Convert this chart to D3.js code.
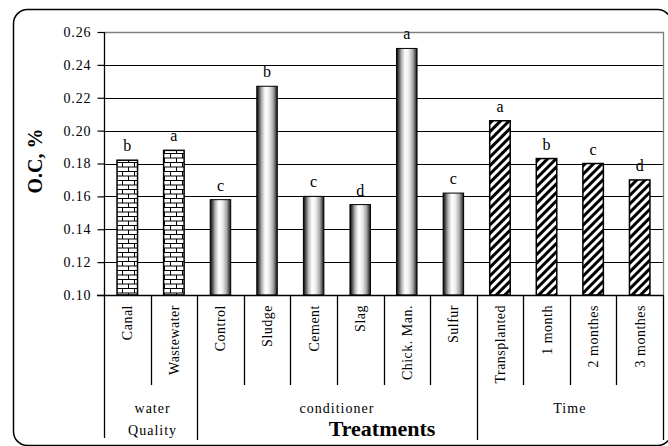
<!DOCTYPE html>
<html>
<head>
<meta charset="utf-8">
<script src="https://cdn.jsdelivr.net/npm/d3@7"></script>
<style>
  html, body { margin: 0; padding: 0; background: #fff; }
  svg { display: block; }
  text { font-family: "Liberation Serif", "Times New Roman", serif; fill: #000; }
</style>
</head>
<body>
<svg id="chart" width="668" height="446"></svg>
<script>
// Organic carbon (O.C, %) by treatment
const categories = ["Canal", "Wastewater", "Control", "Sludge", "Cement", "Slag",
  "Chick. Man.", "Sulfur", "Transplanted", "1 month", "2 monthes", "3 monthes"];
const ocValues = [0.182, 0.188, 0.158, 0.227, 0.160, 0.155, 0.250, 0.162, 0.206, 0.183, 0.180, 0.170];
const letters = ["b", "a", "c", "b", "c", "d", "a", "c", "a", "b", "c", "d"];
const groupLabels = [["water", "Quality"], ["conditioner"], ["Time"]];
const groupCounts = [2, 6, 4];
const yTicks = [0.10, 0.12, 0.14, 0.16, 0.18, 0.20, 0.22, 0.24, 0.26];

const svg = d3.select("#chart");
const plotLeft = 104, plotRight = 663, plotTop = 32, plotBottom = 295;
const catBottom = 385, tableBottom = 440;

// Fill definitions: brick, cylinder shading, diagonal hatch
const defs = svg.append("defs");
const brick = defs.append("pattern").attr("id", "brick")
  .attr("patternUnits", "userSpaceOnUse").attr("width", 12).attr("height", 9);
brick.append("rect").attr("width", 12).attr("height", 9).attr("fill", "#fff");
brick.append("path")
  .attr("d", "M0,0.5H12M0,5H12M2.5,0.5V5M8.5,5V9")
  .attr("stroke", "#000").attr("stroke-width", 1).attr("fill", "none");

const cyl = defs.append("linearGradient").attr("id", "cyl")
  .attr("x1", "0").attr("x2", "1").attr("y1", "0").attr("y2", "0");
[[0, "#000"], [0.1, "#4a4a4a"], [0.25, "#b8b8b8"], [0.42, "#ffffff"],
 [0.6, "#ededed"], [0.8, "#a8a8a8"], [0.92, "#505050"], [1, "#111"]]
  .forEach(([o, c]) => cyl.append("stop").attr("offset", o).attr("stop-color", c));

const hatch = defs.append("pattern").attr("id", "hatch")
  .attr("patternUnits", "userSpaceOnUse").attr("width", 6).attr("height", 6)
  .attr("patternTransform", "rotate(45)");
hatch.append("rect").attr("width", 6).attr("height", 6).attr("fill", "#fff");
hatch.append("line").attr("x1", 1.5).attr("x2", 1.5).attr("y1", 0).attr("y2", 6)
  .attr("stroke", "#000").attr("stroke-width", 3);

const groupFills = ["url(#brick)", "url(#cyl)", "url(#hatch)"];
const catGroup = [];
groupCounts.forEach((n, g) => { for (let i = 0; i < n; i++) catGroup.push(g); });

// Outer rounded frame
svg.append("rect").attr("x", 13.5).attr("y", 9.5).attr("width", 658).attr("height", 436)
  .attr("rx", 14).attr("fill", "none").attr("stroke", "#000").attr("stroke-width", 1.5);

const x = d3.scaleBand().domain(categories).range([plotLeft, plotRight])
  .paddingInner(0.56).paddingOuter(0.28);
const y = d3.scaleLinear().domain([0.10, 0.26]).range([plotBottom, plotTop]);
const step = x.step();
const edge = i => plotLeft + step * i;

// Horizontal gridlines
svg.append("g").selectAll("line").data(yTicks.slice(1, -1)).join("line")
  .attr("x1", plotLeft).attr("x2", plotRight)
  .attr("y1", d => Math.round(y(d)) + 0.5).attr("y2", d => Math.round(y(d)) + 0.5)
  .attr("stroke", "#000").attr("stroke-width", 1);

// Plot area border (top and right)
svg.append("path")
  .attr("d", `M${plotLeft},${Math.round(y(0.26)) + 0.5}H${plotRight + 0.5}V${plotBottom}`)
  .attr("fill", "none").attr("stroke", "#808080").attr("stroke-width", 1.3);

// Bars
svg.append("g").selectAll("rect").data(categories).join("rect")
  .attr("x", d => x(d))
  .attr("width", x.bandwidth())
  .attr("y", (d, i) => y(ocValues[i]))
  .attr("height", (d, i) => y(0.10) - y(ocValues[i]))
  .attr("fill", (d, i) => groupFills[catGroup[i]])
  .attr("stroke", "#000")
  .attr("stroke-width", (d, i) => catGroup[i] === 1 ? 1 : 1.5);

// Significance letters
svg.append("g").selectAll("text").data(letters).join("text")
  .attr("x", (d, i) => x(categories[i]) + x.bandwidth() / 2)
  .attr("y", (d, i) => y(ocValues[i]) - 9)
  .attr("text-anchor", "middle")
  .style("font-size", "16px")
  .text(d => d);

// Y axis
const yAxis = d3.axisLeft(y).tickValues(yTicks).tickFormat(d3.format(".2f"))
  .tickSize(7).tickPadding(6);
const gy = svg.append("g").attr("transform", `translate(${plotLeft + 0.5},0)`).call(yAxis)
  .attr("font-family", "Liberation Serif, serif").attr("font-size", 14);
gy.select(".domain").remove();
gy.selectAll(".tick line").attr("stroke", "#000").attr("stroke-width", 1.2);
gy.selectAll(".tick text").attr("fill", "#000").style("letter-spacing", "0.9px");

// Axis lines and category table
const tbl = svg.append("g").attr("stroke", "#000").attr("stroke-width", 1.3);
tbl.append("line").attr("x1", plotLeft + 0.5).attr("x2", plotLeft + 0.5)
  .attr("y1", plotTop).attr("y2", tableBottom - 2);
tbl.append("line").attr("x1", plotLeft - 7).attr("x2", plotRight + 0.5)
  .attr("y1", plotBottom + 0.5).attr("y2", plotBottom + 0.5);

const groupEdges = [0];
groupCounts.reduce((acc, n) => { groupEdges.push(acc + n); return acc + n; }, 0);
d3.range(1, categories.length + 1).forEach(i => {
  const isGroupEdge = groupEdges.includes(i);
  tbl.append("line")
    .attr("x1", Math.round(edge(i)) + 0.5).attr("x2", Math.round(edge(i)) + 0.5)
    .attr("y1", plotBottom).attr("y2", isGroupEdge ? tableBottom : catBottom);
});

// Category labels, rotated
svg.append("g").selectAll("text").data(categories).join("text")
  .attr("transform", d => `translate(${x(d) + x.bandwidth() / 2 + 5},${plotBottom + 10}) rotate(-90)`)
  .attr("text-anchor", "end")
  .style("font-size", "14px").style("letter-spacing", "0.5px")
  .text(d => d);

// Group labels
groupLabels.forEach((lines, g) => {
  const cx = (edge(groupEdges[g]) + edge(groupEdges[g + 1])) / 2;
  lines.forEach((t, k) => {
    svg.append("text").attr("x", cx + (g === 0 ? 2 : 0)).attr("y", 413 + k * 22)
      .attr("text-anchor", "middle")
      .style("font-size", "14px").style("letter-spacing", "1px")
      .text(t);
  });
});

// Axis titles
svg.append("text").attr("x", 382).attr("y", 436).attr("text-anchor", "middle")
  .style("font-size", "22px").style("font-weight", "bold")
  .text("Treatments");
svg.append("text").attr("transform", "translate(42,161) rotate(-90)")
  .attr("text-anchor", "middle")
  .style("font-size", "20px").style("font-weight", "bold")
  .text("O.C, %");
</script>
</body>
</html>
